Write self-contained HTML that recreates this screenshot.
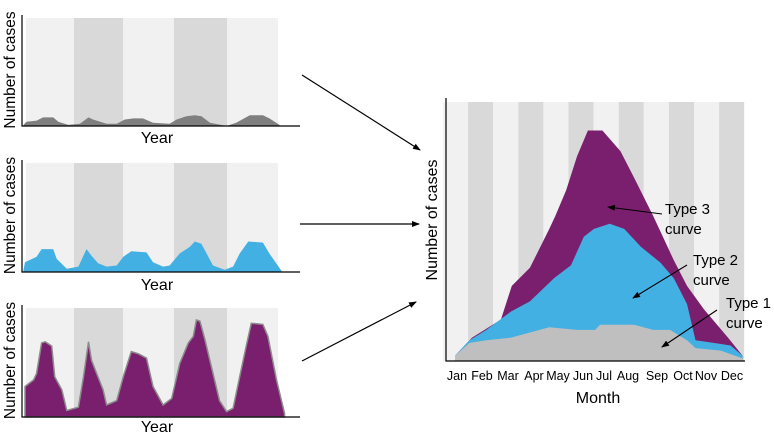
<!DOCTYPE html>
<html><head><meta charset="utf-8">
<style>
html,body{margin:0;padding:0;background:#fff;}
svg{display:block;font-family:"Liberation Sans",sans-serif;}
</style></head>
<body>
<svg id="fig" width="774" height="435" viewBox="0 0 774 435">
<defs>
<marker id="ah" markerWidth="8" markerHeight="6" refX="7" refY="3" orient="auto" markerUnits="userSpaceOnUse">
<path d="M0,0 L8,3 L0,6 Z" fill="#000"/></marker>
</defs>
<g id="left"></g>
<g id="right"></g>
<g stroke="#000" stroke-width="1.2" fill="none">
<line x1="302" y1="75" x2="420" y2="150" marker-end="url(#ah)"/>
<line x1="300" y1="224" x2="419" y2="224" marker-end="url(#ah)"/>
<line x1="302" y1="361" x2="416" y2="302" marker-end="url(#ah)"/>
</g>
</svg>
<script>
// Left panels (x in years 0..5, y as % of panel height)
const yearsGrayX = [-0.05,0.01,0.21,0.34,0.54,0.64,0.84,1.07,1.24,1.33,1.6,1.8,1.96,2.13,2.32,2.52,2.85,2.99,3.18,3.35,3.48,3.65,3.98,4.17,4.44,4.7,4.83,5.03];
const yearsGrayY = [1,4,5,8,8,4,1,2,8,6,2,2,6,7,7,3,2,6,9,10,9,3,0,3,10,10,7,1];
const yearsBlueX = [-0.05,-0.02,0.21,0.31,0.54,0.61,0.81,1.04,1.2,1.3,1.43,1.6,1.8,1.93,2.09,2.39,2.52,2.72,2.85,3.05,3.25,3.35,3.48,3.71,3.94,4.11,4.24,4.41,4.7,4.83,5.07];
const yearsBlueY = [2,9,14,21,21,12,3,5,21,15,8,5,6,14,19,18,9,5,6,17,23,28,26,6,2,5,17,28,27,17,1];
const yearsPurpleX = [-0.02,0.15,0.21,0.31,0.38,0.51,0.57,0.71,0.81,1.04,1.14,1.24,1.3,1.4,1.53,1.6,1.8,1.93,2.09,2.23,2.39,2.52,2.72,2.89,3.05,3.22,3.32,3.38,3.45,3.55,3.84,3.98,4.11,4.24,4.37,4.47,4.7,4.8,4.97,5.13];
const yearsPurpleY = [28,34,40,68,69,65,37,25,6,9,37,69,52,40,25,11,15,37,60,58,54,28,11,17,49,68,74,89,88,71,15,5,8,37,65,86,85,74,34,3];
// Right chart (x in months 0..12, y as % of plot height)
const monthLabels = ["Jan","Feb","Mar","Apr","May","Jun","Jul","Aug","Sep","Oct","Nov","Dec"];
const type3X = [0,0.7,1.9,2.35,3.1,3.9,4.15,4.6,5.05,5.5,6.1,6.85,7.4,8.2,9.05,9.6,10.3,11.3,11.9];
const type3Y = [2,9,16,29,36,51,56,66,79,89,89,81,71,56,39,29,20,9,2];
const type2X = [0,0.6,1.3,2.3,3.1,4.1,4.8,5.33,5.75,6.4,7.0,7.7,8.5,9.05,9.6,9.95,10.7,11.4,11.9];
const type2Y = [2,8,12,19,23,32,37,48,51,53,51,44,38,32,22,8,7,6,2];
const type1X = [0,0.6,1.3,2.3,3.1,3.9,5.05,5.8,6.0,7.4,8.2,8.9,9.6,9.95,11.0,11.9];
const type1Y = [2,7,8,9,11,13,12,12,14,14,12,12,8,5,4,1];

const NS="http://www.w3.org/2000/svg";
function mk(tag,attrs,parent){const e=document.createElementNS(NS,tag);for(const k in attrs)e.setAttribute(k,attrs[k]);parent.appendChild(e);return e;}
function areaPath(xs,ys,sx,sy,base){let d="M"+sx(xs[0])+","+base;for(let i=0;i<xs.length;i++)d+=" L"+sx(xs[i]).toFixed(1)+","+sy(ys[i]).toFixed(1);d+=" L"+sx(xs[xs.length-1])+","+base+" Z";return d;}

const left=document.getElementById('left');
const panels=[{top:18,bot:126,xs:yearsGrayX,ys:yearsGrayY,fill:"#7f7f7f",stroke:"none",name:"type1-panel",yearY:143},
{top:163,bot:272,xs:yearsBlueX,ys:yearsBlueY,fill:"#43b0e3",stroke:"none",name:"type2-panel",yearY:290},
{top:308,bot:417,xs:yearsPurpleX,ys:yearsPurpleY,fill:"#7a1f6d",stroke:"#8c8c8c",name:"type3-panel",yearY:432}];
const bandX=[26,74,123,174,227,278];
panels.forEach(p=>{
  const g=mk('g',{},left);
  
  
  for(let i=0;i<5;i++){
    const r=mk('rect',{x:bandX[i],y:p.top,width:bandX[i+1]-bandX[i],height:p.bot-p.top,fill:i%2?"#d9d9d9":"#f1f1f1"},g);
    
    
  }
  const sx=v=>26+v*50.4, sy=v=>p.bot-v/100*(p.bot-p.top);
  const a=mk('path',{d:areaPath(p.xs,p.ys,sx,sy,p.bot),fill:p.fill,stroke:p.stroke,"stroke-width":1.5},g);
  
  
  const ax=mk('path',{d:`M22,${p.top-3} L22,${p.bot} L300,${p.bot}`,stroke:"#000","stroke-width":1.2,fill:"none"},g);
  
  
  const yl=mk('text',{x:0,y:0,"font-size":15.5,"text-anchor":"middle",transform:`translate(15,${(p.top+p.bot)/2-2}) rotate(-90)`},g);
  yl.textContent="Number of cases";
  
  
  const xl=mk('text',{x:157,y:p.yearY,"font-size":16,"text-anchor":"middle"},g);
  xl.textContent="Year";
  
  
});

const right=document.getElementById('right');
const rTop=102,rBot=361,rX0=455,rX1=745;
const bandStart=443,bw=25.1;
for(let i=0;i<12;i++){
  const r=mk('rect',{x:bandStart+i*bw,y:rTop,width:bw,height:rBot-rTop,fill:i%2?"#d9d9d9":"#f1f1f1"},right);
  
  
}
const cw=(rX1-rX0)/12;
const rsx=v=>rX0+v*cw, rsy=v=>rBot-v/100*(rBot-rTop);
[[type3X,type3Y,"#7a1f6d","type3-area"],[type2X,type2Y,"#43b0e3","type2-area"],[type1X,type1Y,"#bfbfbf","type1-area"]].forEach(s=>{
  const a=mk('path',{d:areaPath(s[0],s[1],rsx,rsy,rBot),fill:s[2]},right);
  
  
});
const rax=mk('path',{d:`M446,98 L446,361 L745,361`,stroke:"#000","stroke-width":1.2,fill:"none"},right);


const labelX=[457,482,508,534,558,583,604,628,657,683,706,732];
monthLabels.forEach((m,i)=>{
  const t=mk('text',{x:labelX[i],y:380,"font-size":12.5,"text-anchor":"middle"},right);
  t.textContent=m;
  
  
});
const mt=mk('text',{x:598,y:403,"font-size":16,"text-anchor":"middle"},right);
mt.textContent="Month";


const ryl=mk('text',{x:0,y:0,"font-size":16,"text-anchor":"middle",transform:"translate(437,220) rotate(-90)"},right);
ryl.textContent="Number of cases";


const ann=[["Type 3",665,214,662,214,608,207,"type3-annotation"],["Type 2",693,265,687,265,633,298,"type2-annotation"],["Type 1",726,308,717,310,662,347,"type1-annotation"]];
ann.forEach(a=>{
  const g=mk('g',{},right);
  
  
  const t1=mk('text',{x:a[1],y:a[2],"font-size":15},g);t1.textContent=a[0];
  const t2=mk('text',{x:a[1],y:a[2]+20,"font-size":15},g);t2.textContent="curve";
  mk('line',{x1:a[3],y1:a[4],x2:a[5],y2:a[6],stroke:"#000","stroke-width":1.1,"marker-end":"url(#ah)"},g);
});
</script>
</body></html>
